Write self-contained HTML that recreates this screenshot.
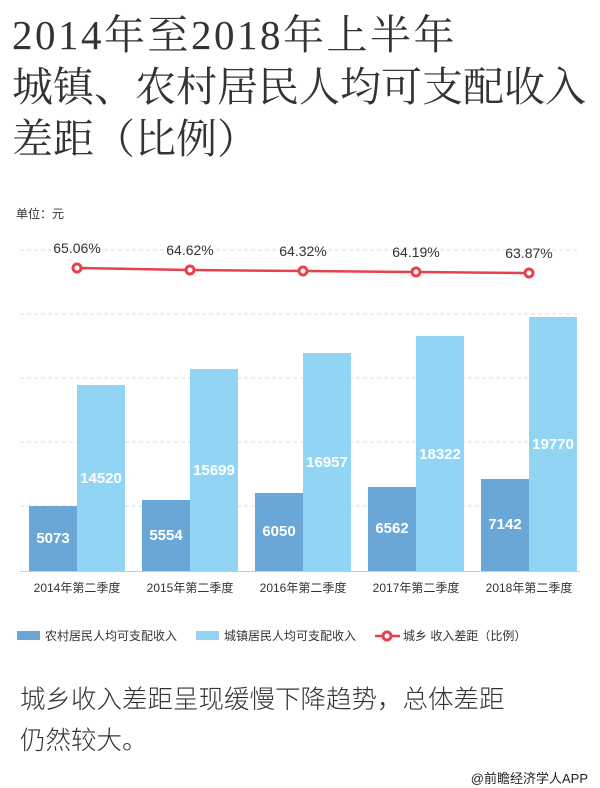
<!DOCTYPE html>
<html><head><meta charset="utf-8"><style>
body{margin:0;width:600px;height:788px;background:#fff;overflow:hidden;position:relative;font-family:"Liberation Sans","Noto Sans CJK SC",sans-serif}
.t{position:absolute;left:12px;font-family:"Liberation Serif","Noto Serif CJK SC",serif;font-size:41px;color:#333;line-height:1;white-space:nowrap}
</style></head><body>
<div class="t" style="top:15px;letter-spacing:2.5px">2014年至2018年上半年</div>
<div class="t" style="top:67px">城镇、农村居民人均可支配收入</div>
<div class="t" style="top:119px">差距（比例）</div>
<div style="position:absolute;left:16px;top:205px;font-size:12px;color:#333">单位：元</div>
<svg width="600" height="788" style="position:absolute;left:0;top:0" font-family="Liberation Sans, Noto Sans CJK SC, sans-serif">
<g stroke="#ddd" stroke-dasharray="4,3">
<line x1="20" x2="580" y1="250" y2="250"/><line x1="20" x2="580" y1="314" y2="314"/>
<line x1="20" x2="580" y1="378" y2="378"/><line x1="20" x2="580" y1="442" y2="442"/>
<line x1="20" x2="580" y1="506" y2="506"/></g>
<line x1="20" x2="580" y1="571.5" y2="571.5" stroke="#ccc"/>
<g fill="#6aa7d6">
<rect x="29" y="506" width="48" height="65"/><rect x="142" y="500" width="48" height="71"/>
<rect x="255" y="493" width="48" height="78"/><rect x="368" y="487" width="48" height="84"/>
<rect x="481" y="479" width="48" height="92"/></g>
<g fill="#91d4f4">
<rect x="77" y="385" width="48" height="186"/><rect x="190" y="369" width="48" height="202"/>
<rect x="303" y="353" width="48" height="218"/><rect x="416" y="336" width="48" height="235"/>
<rect x="529" y="317" width="48" height="254"/></g>
<g fill="#fff" font-weight="bold" font-size="15" text-anchor="middle">
<text x="53" y="543">5073</text><text x="166" y="540">5554</text><text x="279" y="536">6050</text><text x="392" y="533">6562</text><text x="505" y="529">7142</text>
<text x="101" y="483">14520</text><text x="214" y="475">15699</text><text x="327" y="467">16957</text><text x="440" y="459">18322</text><text x="553" y="449">19770</text></g>
<polyline points="77,268 190,270 303,271 416,272 529,273" fill="none" stroke="#e8414b" stroke-width="2.5"/>
<g fill="#fff" stroke="#e8414b" stroke-width="3">
<circle cx="77" cy="268" r="4"/><circle cx="190" cy="270" r="4"/><circle cx="303" cy="271" r="4"/><circle cx="416" cy="272" r="4"/><circle cx="529" cy="273" r="4"/></g>
<g fill="#333" font-size="14" text-anchor="middle">
<text x="77" y="253">65.06%</text><text x="190" y="255">64.62%</text><text x="303" y="256">64.32%</text><text x="416" y="257">64.19%</text><text x="529" y="258">63.87%</text></g>
<g fill="#333" font-size="12" text-anchor="middle">
<text x="77" y="592">2014年第二季度</text><text x="190" y="592">2015年第二季度</text><text x="303" y="592">2016年第二季度</text><text x="416" y="592">2017年第二季度</text><text x="529" y="592">2018年第二季度</text></g>
<rect x="17" y="631" width="23" height="9" fill="#6aa7d6"/>
<text x="45" y="640" font-size="12" fill="#333">农村居民人均可支配收入</text>
<rect x="196" y="631" width="23" height="9" fill="#91d4f4"/>
<text x="224" y="640" font-size="12" fill="#333">城镇居民人均可支配收入</text>
<line x1="375" x2="400" y1="636" y2="636" stroke="#e8414b" stroke-width="2.5"/>
<circle cx="387" cy="636" r="4" fill="#fff" stroke="#e8414b" stroke-width="3"/>
<text x="403" y="640" font-size="12" fill="#333">城乡 收入差距（比例）</text>
<text x="20" y="708" font-size="25.5" fill="#333" font-weight="300">城乡收入差距呈现缓慢下降趋势，总体差距</text>
<text x="20" y="749" font-size="25.5" fill="#333" font-weight="300">仍然较大。</text>
<text x="588" y="783" font-size="13" fill="#222" text-anchor="end">@前瞻经济学人APP</text>
</svg>
</body></html>
